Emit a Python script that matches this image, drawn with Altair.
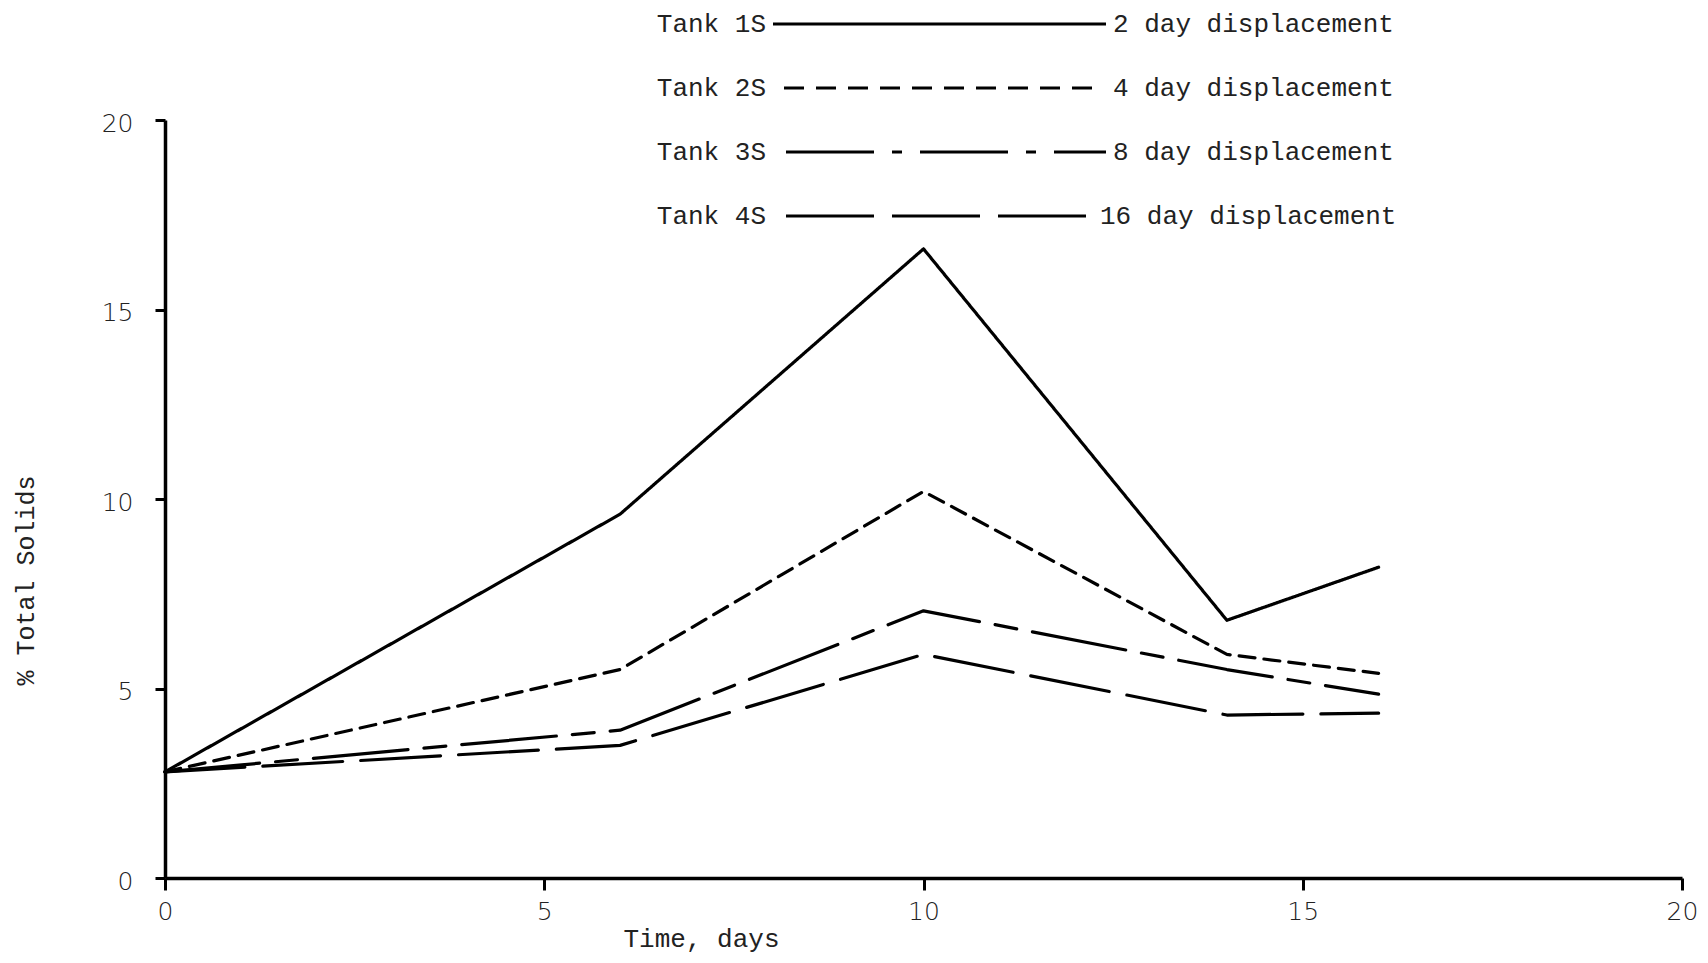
import altair as alt
import pandas as pd

# ---- data ----
days = [0, 6, 10, 14, 16]
tank_1s = [2.8, 9.6, 16.6, 6.8, 8.2]
tank_2s = [2.8, 5.5, 10.2, 5.9, 5.4]
tank_3s = [2.8, 3.9, 7.05, 5.5, 4.85]
tank_4s = [2.8, 3.5, 5.9, 4.3, 4.35]

tanks = ["Tank 1S", "Tank 2S", "Tank 3S", "Tank 4S"]
displacements = ["2 day displacement", "4 day displacement",
                 "8 day displacement", "16 day displacement"]
dash_patterns = [[1, 0], [16, 9], [95, 16, 22, 16], [80, 18]]
legend_dashes = [[1, 0], [20, 12], [88, 18, 10, 18], [88, 18]]

x_ticks = [0, 5, 10, 15, 20]
y_ticks = [0, 5, 10, 15, 20]

rows = []
for name, vals in zip(tanks, [tank_1s, tank_2s, tank_3s, tank_4s]):
    for d, v in zip(days, vals):
        rows.append({"tank": name, "day": d, "solids": v})
df = pd.DataFrame(rows)

MONO = "Liberation Mono"
SANS = "DejaVu Sans"

lines = alt.Chart(df).mark_line(color="black", strokeWidth=3.2, strokeCap="round", strokeJoin="round").encode(
    x=alt.X("day:Q", scale=alt.Scale(domain=[0, 20], nice=False),
            axis=alt.Axis(values=x_ticks, format="d", tickSize=12, tickWidth=3, domainWidth=3.5,
                          domainColor="black", tickColor="black", grid=False,
                          labelFont=SANS, labelFontSize=25, labelFontWeight=200, labelColor="#222",
                          labelPadding=9, labelFlush=False,
                          title="Time, days", titleFont=MONO, titleFontSize=26, titleFontWeight="normal",
                          titleColor="#222", titleX=536, titleY=60, titleAlign="center",
                          titleBaseline="middle")),
    y=alt.Y("solids:Q", scale=alt.Scale(domain=[0, 20], nice=False),
            axis=alt.Axis(values=y_ticks, format="d", tickSize=10, tickWidth=3, domainWidth=3.5,
                          domainColor="black", tickColor="black", grid=False,
                          labelFont=SANS, labelFontSize=25, labelFontWeight=200, labelColor="#222",
                          labelPadding=22, labelOffset=3,
                          title="% Total Solids", titleFont=MONO, titleFontSize=25, titleFontWeight="normal",
                          titleColor="#222", titleX=-140, titleY=460, titleAngle=270,
                          titleAlign="center", titleBaseline="middle")),
    strokeDash=alt.StrokeDash("tank:N", scale=alt.Scale(domain=tanks, range=dash_patterns), legend=None),
    detail="tank:N",
)

# ---- hand-drawn style legend above the plot ----
one = pd.DataFrame({"a": [0]})
row_y = [-96, -32, 32, 96]
line_x0 = [608, 619, 621, 621]
line_x1 = [941, 935, 941, 930]
label_x = [948, 948, 948, 935]

layers = [lines]
for i in range(4):
    layers.append(alt.Chart(one).mark_text(align="right", baseline="middle", font=MONO, fontSize=26,
                                           color="#222", text=tanks[i]).encode(
        x=alt.value(601), y=alt.value(row_y[i])))
    layers.append(alt.Chart(one).mark_rule(color="black", strokeWidth=3, strokeDash=legend_dashes[i]).encode(
        x=alt.value(line_x0[i]), x2=alt.value(line_x1[i]), y=alt.value(row_y[i])))
    layers.append(alt.Chart(one).mark_text(align="left", baseline="middle", font=MONO, fontSize=26,
                                           color="#222", text=displacements[i]).encode(
        x=alt.value(label_x[i]), y=alt.value(row_y[i])))

chart = alt.layer(*layers).properties(
    width=1517, height=758,
    autosize=alt.AutoSizeParams(type="none"),
    padding={"left": 157, "top": 112, "right": 18, "bottom": 77},
    background="white",
).configure_view(stroke=None)

chart.save("out.html", embed_options={"renderer": "svg", "actions": False})
